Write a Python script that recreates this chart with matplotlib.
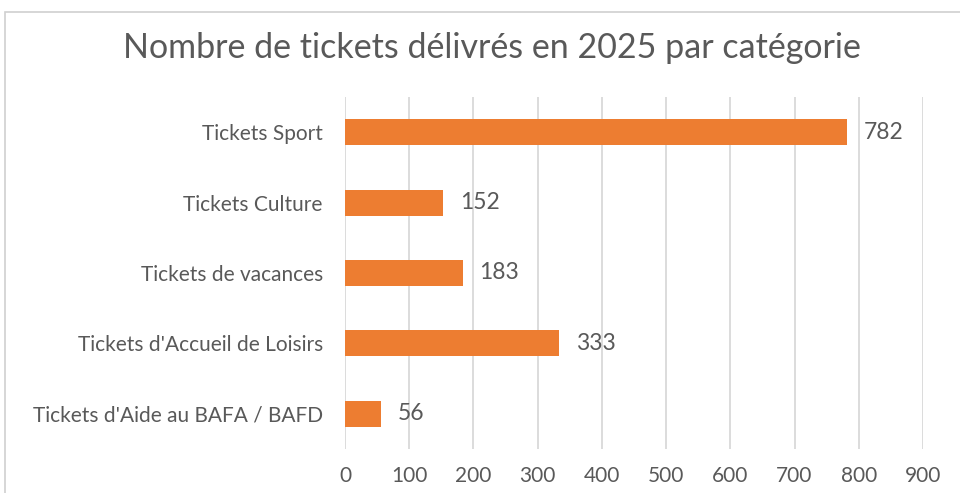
import matplotlib.pyplot as plt
from matplotlib.patches import Rectangle

# Data
categories = ["Tickets Sport", "Tickets Culture", "Tickets de vacances",
              "Tickets d'Accueil de Loisirs", "Tickets d'Aide au BAFA / BAFD"]
values = [782, 152, 183, 333, 56]
x_ticks = [0, 100, 200, 300, 400, 500, 600, 700, 800, 900]

grey = "#595959"
orange = "#ED7D31"
font = ["Lato", "DejaVu Sans"]

fig = plt.figure(figsize=(9.6, 4.93), dpi=100)
ax = fig.add_axes([345 / 960, 1 - 449 / 493, (923 - 345) / 960, 352 / 493])

# chart frame
fig.patches.append(Rectangle((5 / 960, -0.1), 1.2, 1 - 12 / 493 + 0.1,
                             transform=fig.transFigure, fill=False,
                             edgecolor="#d0d0d0", linewidth=1.2))

pos = list(range(len(categories)))
ax.barh(pos, values, height=0.37, color=orange, zorder=3)
ax.set_ylim(len(categories) - 0.5, -0.5)
ax.set_xlim(0, 900)
ax.set_xticks(x_ticks)
ax.set_yticks(pos)
ax.set_yticklabels(categories, fontsize=15, color=grey, family=font)
ax.set_xticklabels([str(t) for t in x_ticks], fontsize=15, color=grey, family=font)
ax.tick_params(axis="y", length=0, pad=16)
ax.tick_params(axis="x", length=0, pad=12)
ax.grid(axis="x", color="#d9d9d9", linewidth=1.3, zorder=0)
for s in ax.spines.values():
    s.set_visible(False)

for p, v in zip(pos, values):
    ax.annotate(str(v), (v, p), xytext=(17, 0), textcoords="offset pixels",
                va="center", ha="left", fontsize=16.5, color=grey, family=font)

fig.text(492 / 960, 1 - 48 / 493, "Nombre de tickets délivrés en 2025 par catégorie",
         ha="center", va="center", fontsize=24.5, color=grey, family=font)

fig.savefig("out.png", dpi=100)
